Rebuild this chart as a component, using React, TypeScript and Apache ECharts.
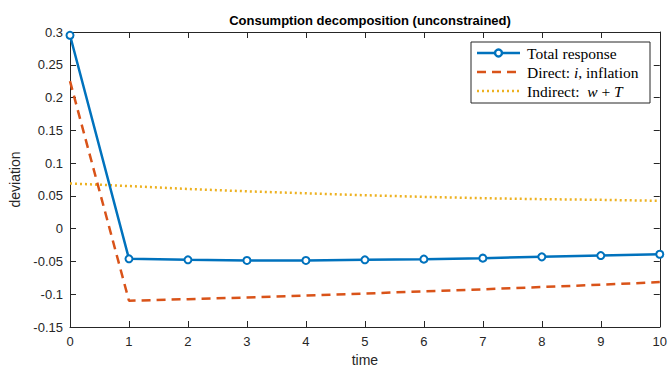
import React, { useEffect, useRef } from "react";
import * as echarts from "echarts";

const time = [0, 1, 2, 3, 4, 5, 6, 7, 8, 9, 10];
const totalResponse = [0.295, -0.046, -0.0475, -0.0485, -0.0485, -0.0475, -0.0465, -0.045, -0.043, -0.041, -0.039];
const directEffect = [0.225, -0.11, -0.1075, -0.105, -0.102, -0.099, -0.0955, -0.0925, -0.089, -0.0855, -0.0815];
const indirectEffect = [0.069, 0.065, 0.0605, 0.057, 0.054, 0.051, 0.0485, 0.0465, 0.045, 0.044, 0.0425];

const BLUE = "#0072BD";
const ORANGE = "#D95319";
const YELLOW = "#EDB120";
const AXIS = "#262626";

export default function App() {
  const ref = useRef<HTMLDivElement>(null);
  useEffect(() => {
    const chart = echarts.init(ref.current!, undefined, { renderer: "svg" });
    const pair = (ys: number[]) => time.map((t, i) => [t, ys[i]]);
    const tickFont = { fontFamily: "Liberation Sans, Arial, sans-serif", fontSize: 13, color: AXIS };
    const axisCommon = {
      axisLine: { show: true, onZero: false, lineStyle: { color: AXIS, width: 1 } },
      axisTick: { show: true, inside: true, length: 6, lineStyle: { color: AXIS } },
      splitLine: { show: false },
    };
    const lx = 477, lx2 = 520, tx = 527;
    const rows = [53, 72, 91];
    const serif = "Liberation Serif, DejaVu Serif, serif";
    const fs = 15.5;
    chart.setOption({
      animation: false,
      backgroundColor: "#fff",
      title: {
        text: "Consumption decomposition (unconstrained)",
        left: 365,
        textAlign: "center",
        top: 9,
        textStyle: { fontFamily: "Liberation Sans, Arial, sans-serif", fontSize: 13, fontWeight: "bold", color: "#000" },
      },
      grid: { left: 70, right: 10, top: 32, bottom: 46, containLabel: false },
      xAxis: [
        {
          type: "value", min: 0, max: 10, interval: 1, position: "bottom",
          name: "time", nameLocation: "middle", nameGap: 26,
          nameTextStyle: { ...tickFont, fontSize: 14 },
          axisLabel: { ...tickFont, margin: 8 },
          ...axisCommon,
        },
        {
          type: "value", min: 0, max: 10, interval: 1, position: "top",
          axisLabel: { show: false }, ...axisCommon,
        },
      ],
      yAxis: [
        {
          type: "value", min: -0.15, max: 0.3, interval: 0.05, position: "left",
          name: "deviation", nameLocation: "middle", nameGap: 44,
          nameTextStyle: { ...tickFont, fontSize: 14 },
          axisLabel: {
            ...tickFont, margin: 7,
            formatter: (v: number) => {
              const r = Math.round(v * 100) / 100;
              return r === 0 ? "0" : String(r);
            },
          },
          ...axisCommon,
        },
        {
          type: "value", min: -0.15, max: 0.3, interval: 0.05, position: "right",
          axisLabel: { show: false }, ...axisCommon,
        },
      ],
      series: [
        {
          name: "Indirect", type: "line", data: pair(indirectEffect), showSymbol: false, symbol: "none",
          lineStyle: { color: YELLOW, width: 2.5, type: [2, 3] }, z: 2,
        },
        {
          name: "Direct", type: "line", data: pair(directEffect), showSymbol: false, symbol: "none",
          lineStyle: { color: ORANGE, width: 2.5, type: [9, 6] }, z: 3,
        },
        {
          name: "Total response", type: "line", data: pair(totalResponse),
          symbol: "emptyCircle", symbolSize: 7,
          itemStyle: { color: BLUE, borderColor: BLUE, borderWidth: 2.5 },
          lineStyle: { color: BLUE, width: 2.5 }, z: 4,
        },
      ],
      graphic: [
        {
          type: "rect", shape: { x: 471, y: 42, width: 179, height: 61 },
          style: { fill: "#fff", stroke: AXIS, lineWidth: 1 }, z: 100,
        },
        { type: "line", shape: { x1: lx, y1: rows[0], x2: lx2, y2: rows[0] }, style: { stroke: BLUE, lineWidth: 2.5 }, z: 101 },
        { type: "circle", shape: { cx: (lx + lx2) / 2, cy: rows[0], r: 3.5 }, style: { fill: "#fff", stroke: BLUE, lineWidth: 2.5 }, z: 102 },
        { type: "line", shape: { x1: lx, y1: rows[1], x2: lx2, y2: rows[1] }, style: { stroke: ORANGE, lineWidth: 2.5, lineDash: [9, 6] }, z: 101 },
        { type: "line", shape: { x1: lx, y1: rows[2], x2: lx2, y2: rows[2] }, style: { stroke: YELLOW, lineWidth: 2.5, lineDash: [2, 3] }, z: 101 },
        {
          type: "text", x: tx, y: rows[0], z: 101,
          style: { text: "Total response", fontFamily: serif, fontSize: fs, fill: "#000", verticalAlign: "middle" },
        },
        {
          type: "text", x: tx, y: rows[1], z: 101,
          style: {
            text: "Direct: {m|i}, inflation", fontFamily: serif, fontSize: fs, fill: "#000", verticalAlign: "middle",
            rich: { m: { fontFamily: serif, fontStyle: "italic", fontSize: fs } },
          },
        },
        {
          type: "text", x: tx, y: rows[2], z: 101,
          style: {
            text: "Indirect:  {m|w} + {m|T}", fontFamily: serif, fontSize: fs, fill: "#000", verticalAlign: "middle",
            rich: { m: { fontFamily: serif, fontStyle: "italic", fontSize: fs } },
          },
        },
      ],
    });
    return () => chart.dispose();
  }, []);
  return <div ref={ref} style={{ width: 670, height: 373, position: "absolute", left: 0, top: 0 }} />;
}
